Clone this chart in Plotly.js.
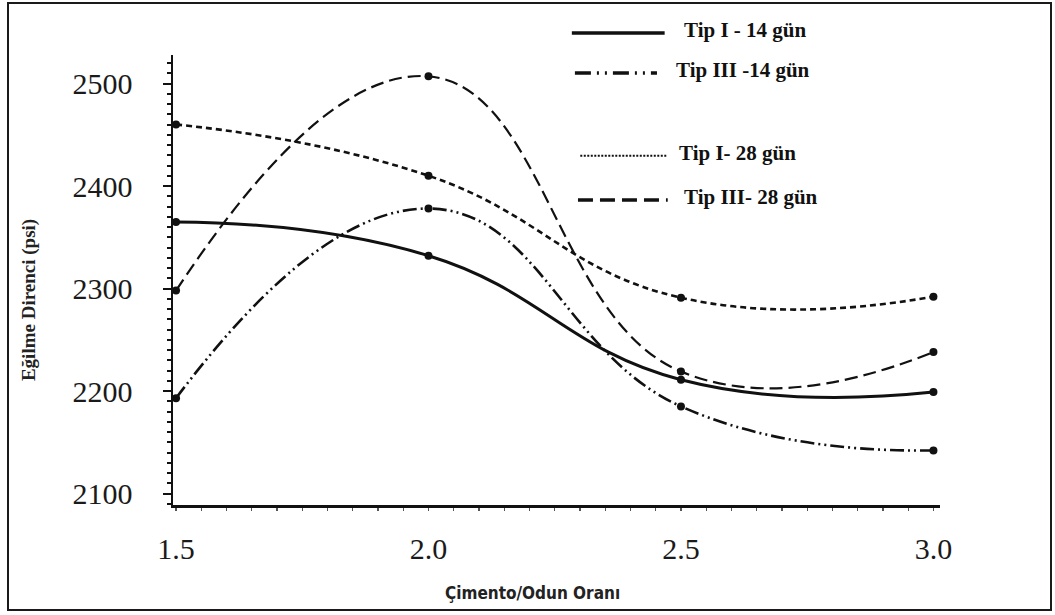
<!DOCTYPE html>
<html>
<head>
<meta charset="utf-8">
<script src="https://cdn.plot.ly/plotly-3.0.1.min.js"></script>
<style>
  html, body { margin: 0; padding: 0; background: #ffffff; }
  #wrap { position: relative; width: 1055px; height: 615px; }
  #chart { position: absolute; left: 0; top: 0; width: 1055px; height: 615px; }
  #frame { position: absolute; left: 7px; top: 2px; width: 1041px; height: 605px;
           border: 2px solid #1a1a1a; pointer-events: none; }
</style>
</head>
<body>
<div id="wrap">
  <div id="chart"></div>
  <div id="frame"></div>
</div>
<script>
// Çimento/odun oranına göre eğilme direnci (psi)
const ratios = [1.5, 2.0, 2.5, 3.0];

const tipI14   = [2365, 2332, 2211, 2199];
const tipIII14 = [2193, 2378, 2185, 2142];
const tipI28   = [2460, 2410, 2291, 2292];
const tipIII28 = [2298, 2507, 2219, 2238];

const seriesNames = ['Tip I - 14 gün', 'Tip III -14 gün', 'Tip I- 28 gün', 'Tip III- 28 gün'];
const seriesValues = [tipI14, tipIII14, tipI28, tipIII28];

const yTicks = [2100, 2200, 2300, 2400, 2500];
const xTicks = [1.5, 2.0, 2.5, 3.0];
const xTickText = ['1.5', '2.0', '2.5', '3.0'];

// line styles for the curves and for the key samples
const curveStyles = [
  { width: 3,   dash: 'solid' },
  { width: 2.6, dash: '14px,4px,2px,4px,2px,4px' },
  { width: 2.6, dash: '6px,4px' },
  { width: 2.2, dash: '13px,6px' }
];
const keyStyles = [
  { width: 3.5, dash: 'solid' },
  { width: 3.5, dash: '16px,6px,2px,6px,2px,6px' },
  { width: 2,   dash: '2px,1.5px' },
  { width: 3.5, dash: '15px,7px' }
];
// key rows (paper fractions): sample line start/end, text left edge, row height
const keyRows = [
  { x0: 0.520, x1: 0.641, tx: 0.664, y: 1.049 },
  { x0: 0.524, x1: 0.631, tx: 0.653, y: 0.960 },
  { x0: 0.531, x1: 0.644, tx: 0.657, y: 0.776 },
  { x0: 0.528, x1: 0.645, tx: 0.663, y: 0.678 }
];

const ink = '#111111';

const traces = seriesValues.map((vals, i) => ({
  type: 'scatter',
  mode: 'lines+markers',
  name: seriesNames[i],
  x: ratios,
  y: vals,
  line: { color: ink, width: curveStyles[i].width, dash: curveStyles[i].dash,
          shape: 'spline', smoothing: 1.3 },
  marker: { color: ink, size: 8, symbol: 'circle' },
  cliponaxis: false,
  showlegend: false
}));

const shapes = [];
const annotations = [];
keyRows.forEach((r, i) => {
  shapes.push({
    type: 'line', xref: 'paper', yref: 'paper',
    x0: r.x0, x1: r.x1, y0: r.y, y1: r.y,
    line: { color: ink, width: keyStyles[i].width, dash: keyStyles[i].dash }
  });
  annotations.push({
    xref: 'paper', yref: 'paper', x: r.tx, y: r.y + 0.006,
    xanchor: 'left', yanchor: 'middle', showarrow: false,
    text: '<b>' + seriesNames[i] + '</b>',
    font: { family: '"Liberation Serif", "Times New Roman", serif', size: 21, color: ink }
  });
});

// axis titles
annotations.push({
  xref: 'paper', yref: 'paper', x: 0.469, y: -0.195,
  xanchor: 'center', yanchor: 'middle', showarrow: false,
  text: '<b>Çimento/Odun Oranı</b>',
  font: { family: '"Liberation Sans Narrow", "DejaVu Sans Condensed", "Arial Narrow", sans-serif', size: 17, color: '#222222' }
});
annotations.push({
  xref: 'paper', yref: 'paper', x: -0.188, y: 0.455,
  xanchor: 'center', yanchor: 'middle', showarrow: false, textangle: -90,
  text: '<b>Eğilme Direnci (psi)</b>',
  font: { family: '"Liberation Serif", "Times New Roman", serif', size: 19, color: '#222222' }
});

const layout = {
  width: 1055,
  height: 615,
  paper_bgcolor: '#ffffff',
  plot_bgcolor: '#ffffff',
  margin: { l: 173, r: 115, t: 55, b: 110 },
  showlegend: false,
  xaxis: {
    range: [1.494, 3.013],
    tickvals: xTicks,
    ticktext: xTickText,
    showgrid: false,
    zeroline: false,
    showline: true,
    linecolor: ink,
    linewidth: 3,
    ticks: 'outside',
    ticklen: 3,
    tickwidth: 1.5,
    tickcolor: '#555555',
    ticklabelstandoff: 12,
    minor: { dtick: 0.05, ticks: 'outside', ticklen: 3, tickwidth: 1.2, tickcolor: '#555555' },
    tickfont: { family: '"Liberation Serif", "Times New Roman", serif', size: 30, color: '#1a1a1a' }
  },
  yaxis: {
    range: [2088.8, 2527.8],
    tickvals: yTicks,
    showgrid: false,
    zeroline: false,
    showline: true,
    linecolor: ink,
    linewidth: 2.5,
    ticks: 'outside',
    ticklen: 8,
    tickwidth: 2,
    tickcolor: ink,
    ticklabelstandoff: 24,
    minor: { dtick: 10, ticks: 'outside', ticklen: 4, tickwidth: 2, tickcolor: ink },
    tickfont: { family: '"Liberation Serif", "Times New Roman", serif', size: 30, color: '#1a1a1a' }
  },
  shapes: shapes,
  annotations: annotations
};

Plotly.newPlot('chart', traces, layout, { staticPlot: true, displayModeBar: false });
</script>
</body>
</html>
